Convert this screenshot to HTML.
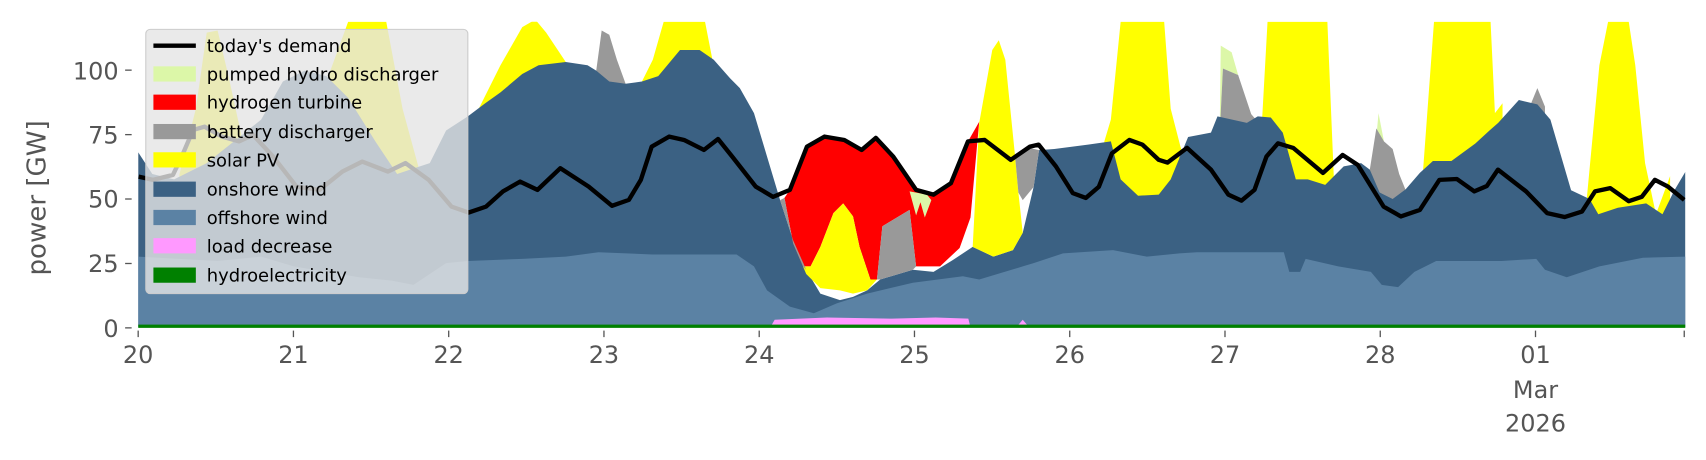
<!DOCTYPE html>
<html><head><meta charset="utf-8"><style>
html,body{margin:0;padding:0;background:#fff;}
svg{display:block;font-family:"DejaVu Sans","Liberation Sans",sans-serif;}
</style></head><body>
<svg width="1706" height="460" viewBox="0 0 1568 423" preserveAspectRatio="none" xmlns="http://www.w3.org/2000/svg">
<defs><clipPath id="c"><rect x="127" y="20" width="1422" height="282"/></clipPath></defs>
<g clip-path="url(#c)">
<g fill="#ffff00">
<polygon points="160,301 165,160 180,100 190,30 200,28 210,70 222,125 235,118 235,301"/>
<polygon points="295,301 300,75 320,20 355,20 370,100 385,155 385,301"/>
<polygon points="430,301 440,100 460,60 480,25 492,18 502,30 520,57 520,301"/>
<polygon points="585,301 590,75 600,55 610,20 648,20 656,61 670,75 670,301"/>
<polygon points="1010,301 1015,130 1021,110 1030,20 1070,20 1076,100 1085,135 1090,150 1090,301"/>
<polygon points="1155,301 1160,110 1165,20 1220,20 1226,165 1231,165 1231,301"/>
<polygon points="1300,301 1308,156 1318,20 1370,20 1374,104 1381,95 1381,301"/>
<polygon points="1450,301 1458,187 1470,60 1478,20 1497,20 1503,60 1512,150 1522,197 1535,162 1535,301"/>
</g>
<g fill="#dcf7a8">
<polygon points="1121,124 1122,42 1132,48 1138,69 1124,63"/>
<polygon points="1262,160 1267,104 1272,130 1266,130"/>
</g>
<g fill="#999999">
<polygon points="545,301 548,65 553,28 560,32 567,55 575,77 575,301"/>
<polygon points="1115,301 1121,124 1124,63 1138,69 1150,105 1156,112 1156,301"/>
<polygon points="1255,301 1259,156 1265,118 1272,130 1280,137 1286,160 1292,175 1292,301"/>
<polygon points="1403,301 1406,98 1413,81 1420,98 1420,301"/>
<polygon points="1080,301 1084,140 1092,132 1100,135 1100,301"/>
</g>
<polygon fill="#3b6183" points="127,301 127,140 140,160 160,165 190,150 215,130 240,110 260,75 280,65 300,70 320,90 345,130 365,160 380,155 395,150 410,120 430,107 446,95 460,85 480,68 495,60 520,57 540,60 548,65 560,75 575,77 590,75 605,70 625,46 643,46 656,55 671,72 680,81 693,104 705,144 717,184 729,221 741,248 754,270 772,276 784,273 797,267 809,257 839,248 858,250 876,239 894,227 913,236 931,230 940,214 950,172 955,138 969,137 1000,133 1021,130 1030,165 1046,180 1065,179 1076,165 1092,126 1113,122 1119,107 1146,113 1156,107 1168,108 1179,122 1191,165 1202,165 1218,170 1235,153 1251,150 1259,156 1268,177 1280,183 1292,174 1305,159 1317,148 1334,148 1356,132 1369,120 1377,113 1396,92 1413,96 1425,110 1444,175 1461,183 1469,197 1487,191 1513,187 1528,197 1539,175 1549,158 1549,301"/>
<polygon fill="#ff0000" points="721,182 726,174.6 741.7,134.8 757.8,125.6 776,128.7 792,137.9 805,126.8 821,144 842,174.6 858,179 874,168.5 889.7,130 900,112 892,200 882,228 864,245 842,245 836,193 811,208 806,257 800,257 790,227 784,199 775,187 766,196 754,227 745,245 738,245 729,224"/>
<polygon fill="#ffff00" points="738,245 745,245 754,227 766,196 775,187 784,199 790,227 800,257 806,257 797,267 784,270 772,267 754,265 741,252"/>
<polygon fill="#999999" points="806,257 811,208 836,193 842,245 839,248 809,257"/>
<polygon fill="#999999" points="717,184 721,182 729,224 738,245 741,248 729,221"/>
<polygon fill="#dcf7a8" points="836,176 852,179 856,184 850,200 846,186 842,198"/>
<polygon fill="#ffff00" points="882,228 894,227 900,113 912,46 918,37 924,55 933,144 936,177 940,214 931,230 913,236 894,227"/>
<polygon fill="#999999" points="933,144 946,136 955,138 950,172 940,184 936,177"/>
<polygon fill="#5b82a4" points="127,301 127,236 200,240 240,236 270,245 300,250 330,255 360,258 380,262 395,252 410,242 430,240 480,238 520,236 550,232 600,234 650,234 677,234 693,245 705,267 726,282 748,288 769,279 797,270 839,260 885,254 900,257 940,245 950,242 977,233 1023,230 1054,236 1084,233 1100,232 1180,232 1185,250 1195,250 1200,238 1230,245 1260,250 1270,262 1285,264 1300,250 1320,240 1380,240 1412,238 1420,248 1440,255 1470,245 1510,237 1549,236 1549,301"/>
<polygon fill="#ff99ff" points="708,301 712,294 760,292 820,293 860,292 890,293 892,301"/>
<polygon fill="#ff99ff" points="934,301 940,294 946,301"/>
<rect x="127" y="298.5" width="1422" height="3" fill="#008000"/>
<polyline fill="none" stroke="#000" stroke-width="4" stroke-linejoin="round" points="127.4,162.4 140.6,165.4 159,160.8 167,144 177.5,119.5 188,116.5 204,125.6 219.7,130 232.6,124 251,144 272.5,171.6 293.6,174.6 314.7,157.8 333,148.6 356.6,157.8 372.7,150 394,165.4 415,190 430.7,195.5 446.7,190 462.3,176 478,167 494,174.6 515,154.7 541,171.6 562.5,189.3 578,183.8 589,165.4 599,134.8 615,125.6 628.7,128.7 647,137.9 660,127.8 673,144 694.6,171.6 710.5,181 726,174.6 741.7,134.8 757.8,125.6 776,128.7 792,137.9 805,126.8 821,144 842,174.6 858,179 874,168.5 889.7,130 905,128.7 929,147 946.7,134.8 954.6,133 970.5,153 986,177.6 998,182 1010,171.7 1022,141 1038,128.7 1050,133 1065,147 1073,149.5 1091,136 1113,156 1129,179 1141,184.5 1153,174.6 1164,144 1174.6,131.8 1188.6,136 1216,159 1234,142.5 1248,151.7 1271.7,190 1287.5,199 1305,193 1323,165.4 1339,164.6 1355,176 1366.6,171 1376.8,156 1402.6,176 1422,196 1438,199.6 1454,194.5 1466,176 1480,173 1497,185 1509,181 1521,165.4 1533,171.6 1548,183.8"/>
</g>
<rect x="134" y="27" width="296" height="243" rx="4" fill="#e5e5e5" fill-opacity="0.8" stroke="#cccccc" stroke-width="1"/>
<g font-size="16.5" fill="#000">
<line x1="141" y1="42" x2="180" y2="42" stroke="#000" stroke-width="4"/>
<text x="190" y="48">today's demand</text>
<rect x="141" y="61" width="39" height="14" fill="#dcf7a8"/><text x="190" y="74">pumped hydro discharger</text>
<rect x="141" y="87" width="39" height="14" fill="#ff0000"/><text x="190" y="100">hydrogen turbine</text>
<rect x="141" y="114" width="39" height="14" fill="#999999"/><text x="190" y="127">battery discharger</text>
<rect x="141" y="140" width="39" height="14" fill="#ffff00"/><text x="190" y="153">solar PV</text>
<rect x="141" y="167" width="39" height="14" fill="#3b6183"/><text x="190" y="180">onshore wind</text>
<rect x="141" y="193" width="39" height="14" fill="#5b82a4"/><text x="190" y="206">offshore wind</text>
<rect x="141" y="219" width="39" height="14" fill="#ff99ff"/><text x="190" y="232">load decrease</text>
<rect x="141" y="246" width="39" height="14" fill="#008000"/><text x="190" y="259">hydroelectricity</text>
</g>
<g fill="#555" font-size="22" text-anchor="end">
<text x="109" y="310">0</text>
<text x="109" y="250">25</text>
<text x="109" y="191">50</text>
<text x="109" y="132">75</text>
<text x="109" y="73">100</text>
</g>
<g stroke="#555" stroke-width="1.2">
<line x1="115" y1="301.5" x2="121" y2="301.5"/><line x1="115" y1="242.3" x2="121" y2="242.3"/><line x1="115" y1="183" x2="121" y2="183"/><line x1="115" y1="123.8" x2="121" y2="123.8"/><line x1="115" y1="64.5" x2="121" y2="64.5"/>
</g>
<text transform="translate(42,182) rotate(-90)" text-anchor="middle" font-size="24" fill="#555">power [GW]</text>
<g stroke="#555" stroke-width="1.2">
<line x1="127" y1="304" x2="127" y2="310"/><line x1="269.7" y1="304" x2="269.7" y2="310"/><line x1="412.4" y1="304" x2="412.4" y2="310"/><line x1="555.1" y1="304" x2="555.1" y2="310"/><line x1="697.8" y1="304" x2="697.8" y2="310"/><line x1="840.5" y1="304" x2="840.5" y2="310"/><line x1="983.2" y1="304" x2="983.2" y2="310"/><line x1="1125.9" y1="304" x2="1125.9" y2="310"/><line x1="1268.6" y1="304" x2="1268.6" y2="310"/><line x1="1411.3" y1="304" x2="1411.3" y2="310"/><line x1="1548" y1="304" x2="1548" y2="310"/>
</g>
<g fill="#555" font-size="22" text-anchor="middle">
<text x="127" y="334">20</text><text x="269.7" y="334">21</text><text x="412.4" y="334">22</text><text x="555.1" y="334">23</text><text x="697.8" y="334">24</text><text x="840.5" y="334">25</text><text x="983.2" y="334">26</text><text x="1125.9" y="334">27</text><text x="1268.6" y="334">28</text><text x="1411.3" y="334">01</text>
<text x="1411.3" y="366">Mar</text><text x="1411.3" y="397">2026</text>
</g>
</svg>
</body></html>
